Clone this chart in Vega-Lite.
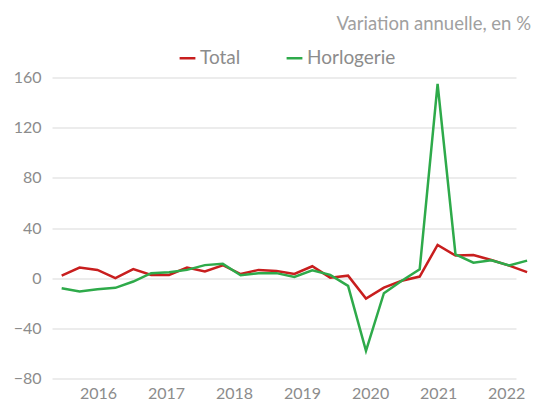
{
  "$schema": "https://vega.github.io/schema/vega-lite/v6.json",
  "autosize": "none",
  "width": 464,
  "height": 301,
  "padding": {"left": 52, "top": 77.5, "right": 31, "bottom": 28.5},
  "background": "white",
  "config": {
    "view": {"stroke": null},
    "font": "Lato",
    "axis": {"labelFont": "Lato", "labelColor": "#8c8c8c", "labelFontSize": 16, "gridColor": "#d9d9d9", "gridWidth": 1, "domain": false, "ticks": false},
    "legend": {"labelFont": "Lato"}
  },
  "title": {
    "text": "Variation annuelle, en %",
    "anchor": "end",
    "frame": "group",
    "orient": "top",
    "offset": 15,
    "dx": 15,
    "fontSize": 18.5,
    "font": "Lato",
    "fontWeight": "normal",
    "color": "#a0a0a0"
  },
  "data": {
    "values": [
      {"q": 0, "trimestre": "2016T1", "serie": "Total", "valeur": 2.1},
      {"q": 1, "trimestre": "2016T2", "serie": "Total", "valeur": 8.4},
      {"q": 2, "trimestre": "2016T3", "serie": "Total", "valeur": 6.6},
      {"q": 3, "trimestre": "2016T4", "serie": "Total", "valeur": 0.0},
      {"q": 4, "trimestre": "2017T1", "serie": "Total", "valeur": 7.2},
      {"q": 5, "trimestre": "2017T2", "serie": "Total", "valeur": 2.6},
      {"q": 6, "trimestre": "2017T3", "serie": "Total", "valeur": 2.6},
      {"q": 7, "trimestre": "2017T4", "serie": "Total", "valeur": 8.4},
      {"q": 8, "trimestre": "2018T1", "serie": "Total", "valeur": 5.3},
      {"q": 9, "trimestre": "2018T2", "serie": "Total", "valeur": 10.3},
      {"q": 10, "trimestre": "2018T3", "serie": "Total", "valeur": 3.3},
      {"q": 11, "trimestre": "2018T4", "serie": "Total", "valeur": 6.6},
      {"q": 12, "trimestre": "2019T1", "serie": "Total", "valeur": 5.8},
      {"q": 13, "trimestre": "2019T2", "serie": "Total", "valeur": 3.4},
      {"q": 14, "trimestre": "2019T3", "serie": "Total", "valeur": 9.5},
      {"q": 15, "trimestre": "2019T4", "serie": "Total", "valeur": 0.4},
      {"q": 16, "trimestre": "2020T1", "serie": "Total", "valeur": 2.0},
      {"q": 17, "trimestre": "2020T2", "serie": "Total", "valeur": -16.2},
      {"q": 18, "trimestre": "2020T3", "serie": "Total", "valeur": -7.5},
      {"q": 19, "trimestre": "2020T4", "serie": "Total", "valeur": -2.1},
      {"q": 20, "trimestre": "2021T1", "serie": "Total", "valeur": 1.3},
      {"q": 21, "trimestre": "2021T2", "serie": "Total", "valeur": 26.5},
      {"q": 22, "trimestre": "2021T3", "serie": "Total", "valeur": 18.0},
      {"q": 23, "trimestre": "2021T4", "serie": "Total", "valeur": 18.5},
      {"q": 24, "trimestre": "2022T1", "serie": "Total", "valeur": 14.5},
      {"q": 25, "trimestre": "2022T2", "serie": "Total", "valeur": 10.0},
      {"q": 26, "trimestre": "2022T3", "serie": "Total", "valeur": 4.8},
      {"q": 0, "trimestre": "2016T1", "serie": "Horlogerie", "valeur": -8.0},
      {"q": 1, "trimestre": "2016T2", "serie": "Horlogerie", "valeur": -10.7},
      {"q": 2, "trimestre": "2016T3", "serie": "Horlogerie", "valeur": -8.8},
      {"q": 3, "trimestre": "2016T4", "serie": "Horlogerie", "valeur": -7.7},
      {"q": 4, "trimestre": "2017T1", "serie": "Horlogerie", "valeur": -2.7},
      {"q": 5, "trimestre": "2017T2", "serie": "Horlogerie", "valeur": 4.0},
      {"q": 6, "trimestre": "2017T3", "serie": "Horlogerie", "valeur": 4.8},
      {"q": 7, "trimestre": "2017T4", "serie": "Horlogerie", "valeur": 6.6},
      {"q": 8, "trimestre": "2018T1", "serie": "Horlogerie", "valeur": 10.4},
      {"q": 9, "trimestre": "2018T2", "serie": "Horlogerie", "valeur": 11.4},
      {"q": 10, "trimestre": "2018T3", "serie": "Horlogerie", "valeur": 2.3},
      {"q": 11, "trimestre": "2018T4", "serie": "Horlogerie", "valeur": 4.0},
      {"q": 12, "trimestre": "2019T1", "serie": "Horlogerie", "valeur": 4.0},
      {"q": 13, "trimestre": "2019T2", "serie": "Horlogerie", "valeur": 1.0},
      {"q": 14, "trimestre": "2019T3", "serie": "Horlogerie", "valeur": 6.3},
      {"q": 15, "trimestre": "2019T4", "serie": "Horlogerie", "valeur": 2.6},
      {"q": 16, "trimestre": "2020T1", "serie": "Horlogerie", "valeur": -6.1},
      {"q": 17, "trimestre": "2020T2", "serie": "Horlogerie", "valeur": -58.0},
      {"q": 18, "trimestre": "2020T3", "serie": "Horlogerie", "valeur": -12.0},
      {"q": 19, "trimestre": "2020T4", "serie": "Horlogerie", "valeur": -2.1},
      {"q": 20, "trimestre": "2021T1", "serie": "Horlogerie", "valeur": 7.0},
      {"q": 21, "trimestre": "2021T2", "serie": "Horlogerie", "valeur": 155.0},
      {"q": 22, "trimestre": "2021T3", "serie": "Horlogerie", "valeur": 19.0},
      {"q": 23, "trimestre": "2021T4", "serie": "Horlogerie", "valeur": 12.4},
      {"q": 24, "trimestre": "2022T1", "serie": "Horlogerie", "valeur": 14.3},
      {"q": 25, "trimestre": "2022T2", "serie": "Horlogerie", "valeur": 10.1},
      {"q": 26, "trimestre": "2022T3", "serie": "Horlogerie", "valeur": 14.0}
    ]
  },
  "mark": {"type": "line", "strokeWidth": 2.5, "clip": false},
  "encoding": {
    "x": {
      "field": "q",
      "type": "quantitative",
      "scale": {"domain": [-0.54, 25.38], "nice": false, "zero": false},
      "axis": {
        "title": null,
        "grid": false,
        "values": [2.03, 5.83, 9.63, 13.43, 17.23, 21.03, 24.83],
        "labelExpr": "format(2016 + round((datum.value - 2.03) / 3.8), 'd')",
        "labelPadding": 7
      }
    },
    "y": {
      "field": "valeur",
      "type": "quantitative",
      "scale": {"domain": [-80, 160], "nice": false},
      "axis": {"title": null, "values": [-80, -40, 0, 40, 80, 120, 160], "labelPadding": 11}
    },
    "color": {
      "field": "serie",
      "type": "nominal",
      "scale": {"domain": ["Total", "Horlogerie"], "range": ["#c81e1e", "#2eaa4a"]},
      "legend": {
        "title": null,
        "orient": "none",
        "direction": "horizontal",
        "legendX": 126,
        "legendY": -29,
        "symbolType": "stroke",
        "symbolSize": 250,
        "symbolStrokeWidth": 2.5,
        "labelFontSize": 19,
        "labelColor": "#8c8c8c",
        "labelOffset": 3,
        "columnPadding": 40
      }
    },
    "order": {"field": "q", "type": "quantitative"}
  }
}
